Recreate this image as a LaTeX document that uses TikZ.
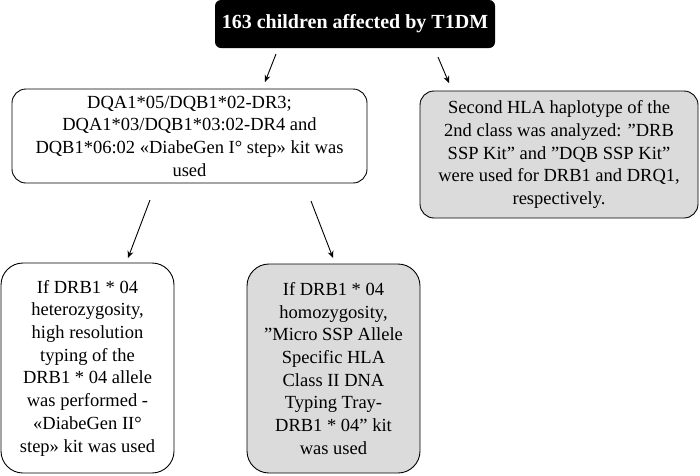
\documentclass[tikz,border=0pt]{standalone}
\usepackage{fontspec}
\setmainfont{Liberation Serif}
\usetikzlibrary{arrows.meta}
\newcommand{\dq}{\symbol{34}}
\tikzset{x=1pt,y=-1pt,
 box/.style={draw=black,rounded corners=14pt,line width=0.9pt,align=center,inner sep=2pt,font=\fontsize{18.5}{22.7}\selectfont},
 gbox/.style={box,fill=black!14},
 arr/.style={-{Stealth[length=7pt,width=6pt]},line width=0.9pt}}
\begin{document}
\begin{tikzpicture}
\useasboundingbox (0,0) rectangle (700,475);
\node[fill=black,rounded corners=6pt,text=white,font=\fontsize{20}{24}\selectfont\bfseries,minimum width=280pt,minimum height=48pt] (top) at (355,24) {163 children affected by T1DM};
\node[box,minimum width=355pt,minimum height=94pt] (a) at (189.5,136) {DQA1*05/DQB1*02-DR3;\\DQA1*03/DQB1*03:02-DR4 and\\DQB1*06:02 «DiabeGen I° step» kit was\\used};
\node[gbox,minimum width=278pt,minimum height=127pt] (b) at (559,154.5) {Second HLA haplotype of the\\2nd class was analyzed: \dq DRB\\SSP Kit\dq{} and \dq DQB SSP Kit\dq\\were used for DRB1 and DRQ1,\\respectively.};
\node[box,rounded corners=22pt,minimum width=173pt,minimum height=210pt] (c) at (87.5,368) {If DRB1 * 04\\heterozygosity,\\high resolution\\typing of the\\DRB1 * 04 allele\\was performed -\\«DiabeGen II°\\step» kit was used};
\node[gbox,rounded corners=22pt,minimum width=173pt,minimum height=209pt] (d) at (333.5,368.5) {If DRB1 * 04\\homozygosity,\\\dq Micro SSP Allele\\Specific HLA\\Class II DNA\\Typing Tray-\\DRB1 * 04\dq{} kit\\was used};
\coordinate (t1) at (276,54); \coordinate (a1) at (265,82);
\coordinate (t2) at (438,57); \coordinate (b1) at (449,83);
\coordinate (a2) at (150,200); \coordinate (c1) at (128,258);
\coordinate (a3) at (311,201); \coordinate (d1) at (333,258);
\draw[arr] (t1) -- (a1);
\draw[arr] (t2) -- (b1);
\draw[arr] (a2) -- (c1);
\draw[arr] (a3) -- (d1);
\end{tikzpicture}
\end{document}
